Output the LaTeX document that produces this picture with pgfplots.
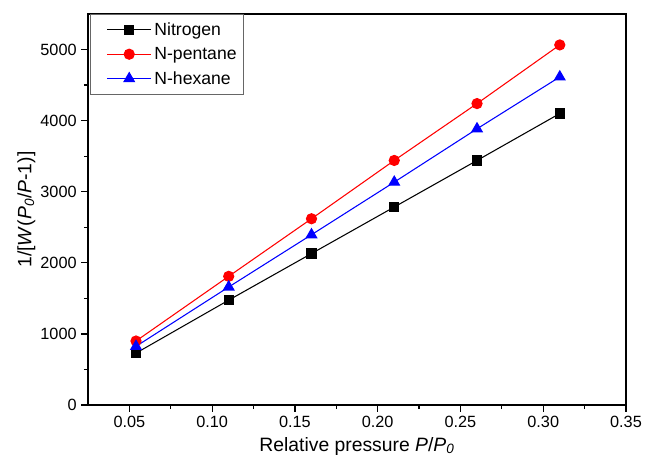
\documentclass[border=0pt]{standalone}
\usepackage{fontspec}
\setmainfont{Liberation Sans}
\usepackage{pgfplots}
\pgfplotsset{compat=1.18}
\begin{document}
\begin{tikzpicture}
\begin{axis}[
  scale only axis, width=403.5pt, height=293.25pt,
  xmin=0.025, xmax=0.35, ymin=0, ymax=5500,
  xtick={0.05,0.10,0.15,0.20,0.25,0.30,0.35},
  ytick={0,1000,2000,3000,4000,5000},
  minor x tick num=1, minor y tick num=1,
  xtick pos=bottom, ytick pos=left,
  tick align=outside,
  major tick length=5pt, minor tick length=3pt,
  axis line style={line width=1.2pt},
  every tick/.style={line width=0.9pt, black},
  /pgf/number format/assume math mode=true,
  /pgf/number format/1000 sep={},
  xticklabel style={/pgf/number format/.cd, fixed, fixed zerofill, precision=2},
  tick label style={font=\fontsize{12.2}{14}\selectfont},
  label style={font=\fontsize{14.5}{17}\selectfont},
  xlabel={Relative pressure \textit{P}/\textit{P}\textsubscript{\textit{0}}},
  ylabel={1/[\textit{W}(\textit{P}\textsubscript{\textit{0}}/\textit{P}-1)]},
  ylabel style={yshift=-3pt},
  legend style={at={(0.004,1)}, anchor=north west, draw=black!60, line width=0.6pt,
    font=\fontsize{13.2}{15}\selectfont, row sep=3.5pt, inner xsep=3pt, inner ysep=4pt},
  legend cell align=left,
  legend image code/.code={\path (-0.32cm,0cm); \draw[mark repeat=2,mark phase=2] plot coordinates {(0cm,0cm) (0.58cm,0cm) (1.16cm,0cm)};},
]
\addplot[black, line width=0.8pt, mark=square*, mark size=3.5pt, mark options={solid}] coordinates {
 (0.054,730) (0.11,1475) (0.16,2130) (0.21,2785) (0.26,3440) (0.31,4100)};
\addlegendentry{Nitrogen}
\addplot[red, line width=0.8pt, mark=*, mark size=3.8pt] coordinates {
 (0.054,900) (0.11,1810) (0.16,2620) (0.21,3440) (0.26,4240) (0.31,5065)};
\addlegendentry{N-pentane}
\addplot[blue, line width=0.8pt, mark=triangle*, mark size=4.5pt] coordinates {
 (0.054,825) (0.11,1660) (0.16,2395) (0.21,3135) (0.26,3885) (0.31,4615)};
\addlegendentry{N-hexane}
\end{axis}
\pgfresetboundingbox
\path[use as bounding box] (current axis.south west) ++(-66pt,-48pt) rectangle ++(484.5pt,351.75pt);
\end{tikzpicture}
\end{document}
